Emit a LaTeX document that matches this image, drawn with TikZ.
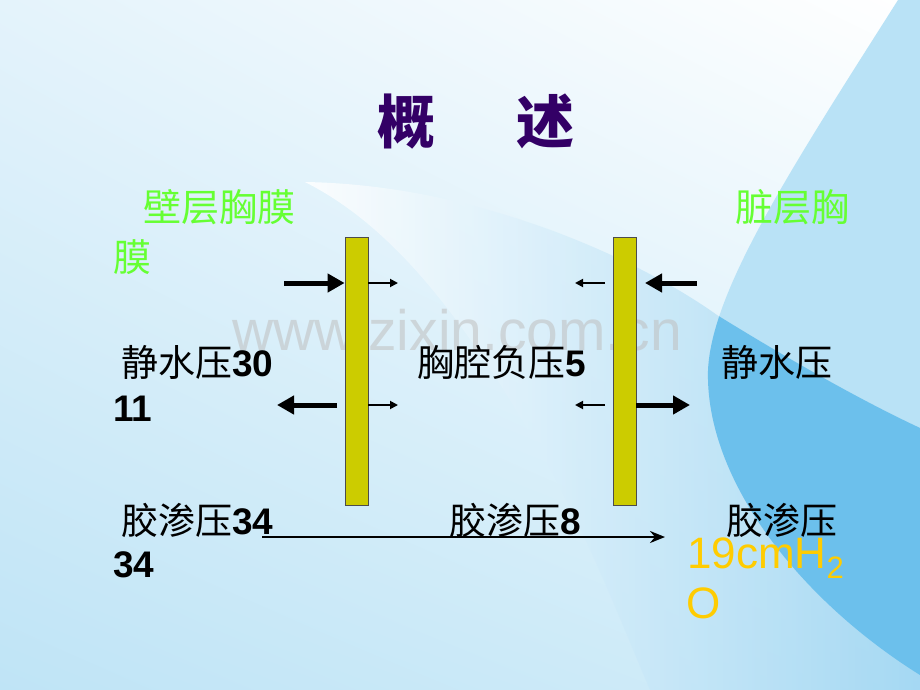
\documentclass[tikz,border=0pt]{standalone}
\usepackage{fontspec}
\setmainfont{Liberation Sans}
\newfontfamily\cjk{Noto Sans CJK SC}
\usetikzlibrary{arrows.meta,shadings}
\definecolor{titlec}{HTML}{330066}
\definecolor{greenc}{HTML}{66FF33}
\definecolor{orangec}{HTML}{FFCC00}
\definecolor{barc}{HTML}{CCCC00}
\definecolor{bgA}{HTML}{E4F3FB}
\definecolor{bgB}{HTML}{BFE4F6}
\definecolor{bgC}{HTML}{D3EDF9}
\definecolor{lblue}{HTML}{B9E2F6}
\definecolor{sblue}{HTML}{9DD5F2}
\definecolor{dblue}{HTML}{6CC0EC}
\tikzset{
  membrane/.style={draw=black!70, line width=0.8pt, fill=barc, minimum width=23pt, minimum height=268pt, inner sep=0pt},
  thickarrow/.style={line width=5pt, -{Triangle[length=17pt,width=18pt]}},
  thinarrow/.style={line width=1.8pt, -{Triangle[length=8pt,width=8pt]}},
  longarrow/.style={line width=2.6pt, -{Stealth[length=15pt,width=12pt,inset=5pt]}},
  lbl/.style={inner sep=0pt, anchor=base west, font=\fontsize{37}{44}\selectfont},
  greenlbl/.style={lbl, text=greenc, font=\fontsize{38}{44}\selectfont\cjk},
}
\begin{document}
\begin{tikzpicture}[x=1pt,y=-1pt]
\useasboundingbox (0,0) rectangle (920,690);
% background
\shade[upper left=bgA, upper right=white, lower left=bgB, lower right=bgC] (0,0) rectangle (920,690);
% right light blue shape
\fill[lblue] (898,0) .. controls (790,170) and (712,290) .. (708,370) .. controls (705,480) and (800,600) .. (920,675) -- (920,0) -- cycle;
% swoosh
\shade[left color=white, right color=sblue, opacity=0.85]
  (305,182) .. controls (480,185) and (640,260) .. (717,315) .. controls (790,360) and (860,400) .. (920,428)
  -- (920,690) -- (650,690) .. controls (620,620) and (590,540) .. (540,450) .. controls (470,330) and (400,230) .. (305,182) -- cycle;
% overlap
\begin{scope}
\clip (898,0) .. controls (790,170) and (712,290) .. (708,370) .. controls (705,480) and (800,600) .. (920,675) -- (920,0) -- cycle;
\fill[dblue] (305,182) .. controls (480,185) and (640,260) .. (717,315) .. controls (790,360) and (860,400) .. (920,428) -- (920,690) -- (650,690) -- cycle;
\end{scope}
% watermark
\node[inner sep=0pt, anchor=base west, text=gray!50, opacity=0.55, font=\fontsize{57}{60}\selectfont] (wm) at (232,350) {www.zixin.com.cn};
% title
\node[inner sep=0pt, anchor=base, text=titlec, font=\fontsize{58}{62}\selectfont\cjk\bfseries] (title) at (476,143) {概\hspace{82pt}述};
% membranes
\node[membrane] (barL) at (356.5,371) {};
\node[membrane] (barR) at (624.5,371) {};
% labels
\node[greenlbl] (pl1) at (143,221) {壁层胸膜};
\node[greenlbl] (pl2) at (113,271) {膜};
\node[greenlbl] (vl) at (735,221) {脏层胸};
\node[lbl] (hs1) at (121,376) {{\cjk 静水压}\textbf{30}};
\node[lbl] (hs1b) at (113,421) {\textbf{11}};
\node[lbl] (neg) at (417,376) {{\cjk 胸腔负压}\textbf{5}};
\node[lbl] (hs2) at (721,376) {{\cjk 静水压}};
\node[lbl] (co1) at (121,534) {{\cjk 胶渗压}\textbf{34}};
\node[lbl] (co1b) at (113,577) {\textbf{34}};
\node[lbl] (co2) at (449,534) {{\cjk 胶渗压}\textbf{8}};
\node[lbl] (co3) at (726,534) {{\cjk 胶渗压}};
\node[inner sep=0pt, anchor=base west, text=orangec, font=\fontsize{44}{50}\selectfont] (h2o) at (687,568) {19cmH\raisebox{-10pt}{\fontsize{31}{34}\selectfont 2}};
\node[inner sep=0pt, anchor=base west, text=orangec, font=\fontsize{44}{50}\selectfont] (h2ob) at (686,618) {O};
% free-end coordinates
\coordinate (a1) at (284,283);
\coordinate (b1) at (398,283);
\coordinate (a2s) at (337,405);
\coordinate (a2e) at (277,405);
\coordinate (b2) at (398,405);
\coordinate (c1s) at (605,283);
\coordinate (c1e) at (575,283);
\coordinate (d1s) at (697,283);
\coordinate (d1e) at (645,283);
\coordinate (c2s) at (605,405);
\coordinate (c2e) at (575,405);
\coordinate (d2) at (690,405);
\coordinate (ls) at (262,537);
\coordinate (le) at (665,537);
% arrows left membrane
\draw[thickarrow] (a1) -- (barL.west |- a1);
\draw[thinarrow] (barL.east |- b1) -- (b1);
\draw[thickarrow] (a2s) -- (a2e);
\draw[thinarrow] (barL.east |- b2) -- (b2);
% arrows right membrane
\draw[thinarrow] (c1s) -- (c1e);
\draw[thickarrow] (d1s) -- (d1e);
\draw[thinarrow] (c2s) -- (c2e);
\draw[thickarrow] (barR.east |- d2) -- (d2);
% long arrow
\draw[longarrow] (ls) -- (le);
\end{tikzpicture}
\end{document}
